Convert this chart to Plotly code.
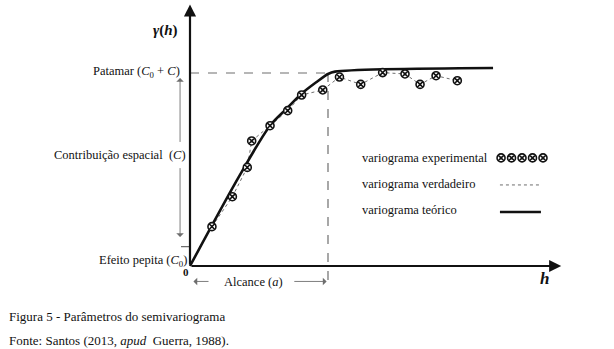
import plotly.graph_objects as go

# Semivariogram parameters (h in lag units, gamma in variance units)
nugget = 1.0        # C0
sill = 10.0         # C0 + C
rng = 10.0          # a

# Experimental semivariogram
exp_h = [1.59, 3.07, 4.15, 4.47, 5.80, 7.08, 8.09, 9.62, 10.83, 12.37,
         13.96, 15.58, 16.67, 17.83, 19.37]
exp_g = [2.04, 3.59, 5.11, 6.48, 7.27, 8.05, 8.86, 9.12, 9.79, 9.41,
         10.02, 9.95, 9.41, 9.86, 9.60]

# Theoretical (fitted) model
teo_h = [0.0, 3.62, 5.80, 7.03, 8.12, 9.20, 10.00, 10.51, 21.96]
teo_g = [0.0, 4.72, 7.27, 8.17, 8.95, 9.55, 9.95, 10.07, 10.26]

serif = "Times New Roman"
ink = "#111111"
grey = "#6e6e6e"

fig = go.Figure()

# reference guides: sill, range and nugget
fig.add_trace(go.Scatter(x=[0, rng], y=[sill, sill], mode="lines",
                         line=dict(color=grey, width=1.2, dash="dash"),
                         hoverinfo="skip"))
fig.add_trace(go.Scatter(x=[rng, rng], y=[sill, -0.85], mode="lines",
                         line=dict(color=grey, width=1.2, dash="dash"),
                         hoverinfo="skip"))
fig.add_trace(go.Scatter(x=[-0.65, 0.72], y=[nugget, nugget], mode="lines",
                         line=dict(color=grey, width=1.2, dash="dash"),
                         hoverinfo="skip"))

# true variogram (dotted, through the experimental points)
fig.add_trace(go.Scatter(x=exp_h, y=exp_g, mode="lines",
                         line=dict(color=grey, width=1, dash="dot"),
                         hoverinfo="skip"))

# theoretical model
fig.add_trace(go.Scatter(x=teo_h, y=teo_g, mode="lines",
                         line=dict(color=ink, width=2.6, shape="spline",
                                   smoothing=0.9),
                         hoverinfo="skip"))

# experimental points
marker_style = dict(symbol="circle-x", size=8, color="white",
                    line=dict(color=ink, width=1.6))
fig.add_trace(go.Scatter(x=exp_h, y=exp_g, mode="markers",
                         marker=marker_style, hoverinfo="skip"))

# key samples to the right of the key labels
key_x = [22.54, 23.30, 24.06, 24.82, 25.58]
fig.add_trace(go.Scatter(x=key_x, y=[5.60] * 5, mode="markers",
                         marker=marker_style, hoverinfo="skip"))
fig.add_trace(go.Scatter(x=[22.46, 25.43], y=[4.20, 4.20], mode="lines",
                         line=dict(color=grey, width=1, dash="dot"),
                         hoverinfo="skip"))
fig.add_trace(go.Scatter(x=[22.46, 25.43], y=[2.80, 2.80], mode="lines",
                         line=dict(color=ink, width=2.6),
                         hoverinfo="skip"))

ann = []


def arrow(x, y, ax, ay, width, head, size, color):
    ann.append(dict(x=x, y=y, ax=ax, ay=ay, xref="x", yref="y",
                    axref="x", ayref="y", text="", showarrow=True,
                    arrowhead=head, arrowwidth=width, arrowsize=size,
                    arrowcolor=color))


# axes with arrowheads
arrow(0, 13.55, 0, 0, 2.2, 2, 1.1, ink)
arrow(26.9, 0, 0, 0, 2.2, 2, 1.1, ink)

# contribution arrows (C)
arrow(-0.72, 9.74, -0.72, 6.35, 0.9, 1, 1.4, grey)
arrow(-0.72, 1.50, -0.72, 5.15, 0.9, 1, 1.4, grey)

# range arrows (a)
arrow(0.25, -0.8, 1.45, -0.8, 0.9, 1, 1.4, grey)
arrow(9.9, -0.8, 7.45, -0.8, 0.9, 1, 1.4, grey)


def label(x, y, text, size=12.5, anchor="center", color=ink):
    ann.append(dict(x=x, y=y, xref="x", yref="y", text=text,
                    showarrow=False, xanchor=anchor, yanchor="middle",
                    font=dict(family=serif, size=size, color=color)))


label(-1.74, 12.2, "<b><i>γ</i>(<i>h</i>)</b>", size=15)
label(-0.55, 10.05, "Patamar (<i>C</i><sub>0</sub> + <i>C</i>)", anchor="right")
label(-0.12, 5.75, "Contribuição espacial  (<i>C</i>)", anchor="right")
label(-0.05, 0.26, "Efeito pepita (<i>C</i><sub>0</sub>)", anchor="right")
label(-0.29, -0.33, "<b>0</b>", size=11)
label(4.6, -0.83, "Alcance (<i>a</i>)")
label(25.72, -0.67, "<b><i>h</i></b>", size=17)

label(12.32, 5.60, "variograma experimental", size=12.5, anchor="left")
label(12.32, 4.25, "variograma verdadeiro", size=12.5, anchor="left")
label(12.32, 2.90, "variograma teórico", size=12.5, anchor="left")

# caption
for yp, txt in [(1 - 316 / 349, "Figura 5 - Parâmetros do semivariograma"),
                (1 - 340 / 349, "Fonte: Santos (2013, <i>apud</i>  Guerra, 1988).")]:
    ann.append(dict(x=7 / 614, y=yp, xref="paper", yref="paper", text=txt,
                    showarrow=False, xanchor="left", yanchor="middle",
                    font=dict(family=serif, size=13, color=ink)))

fig.update_layout(
    width=614, height=349,
    margin=dict(l=0, r=0, t=0, b=0),
    font=dict(family=serif),
    paper_bgcolor="white", plot_bgcolor="white",
    showlegend=False,
    xaxis=dict(range=[-190 / 13.8, 424 / 13.8], visible=False, fixedrange=True),
    yaxis=dict(range=[-83 / 19.3, 266 / 19.3], visible=False, fixedrange=True),
    annotations=ann,
)

fig.write_html("out.html")
